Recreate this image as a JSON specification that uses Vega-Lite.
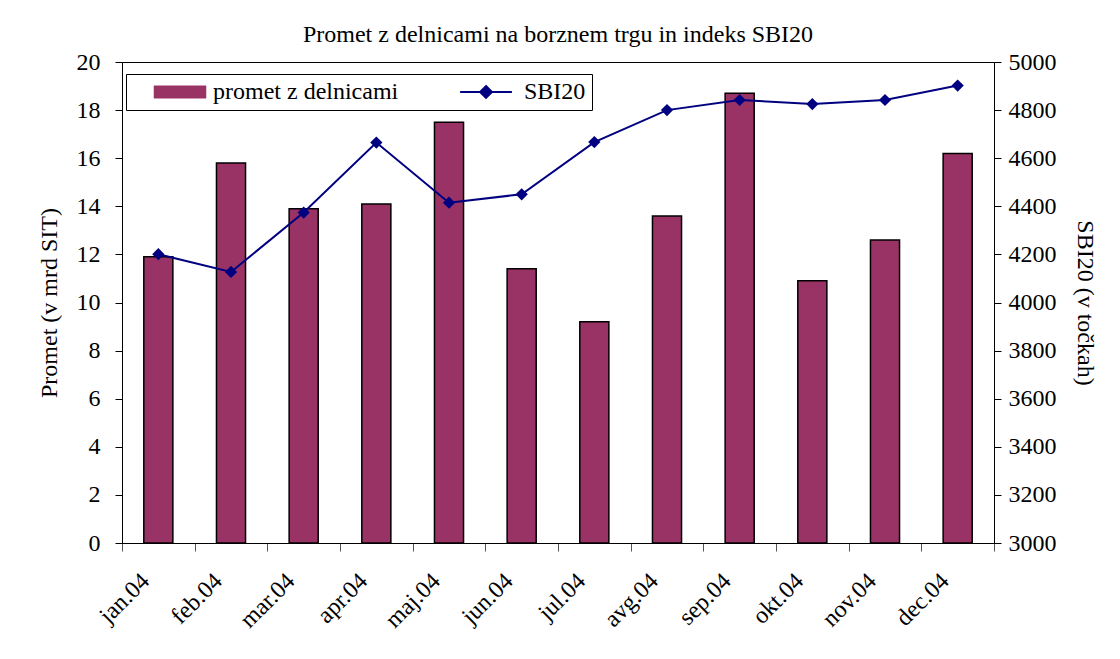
{
  "$schema": "https://vega.github.io/schema/vega-lite/v6.json",
  "width": 872,
  "height": 481,
  "autosize": {"type": "none"},
  "padding": {"left": 122, "top": 62, "right": 126, "bottom": 116},
  "background": "white",
  "title": {
    "text": "Promet z delnicami na borznem trgu in indeks SBI20",
    "font": "Liberation Serif",
    "fontSize": 24,
    "fontWeight": "normal",
    "color": "black",
    "offset": 3,
    "anchor": "middle"
  },
  "data": {
    "values": [
      {"mesec": "jan.04", "promet": 11.9, "sbi": 4201},
      {"mesec": "feb.04", "promet": 15.8, "sbi": 4127},
      {"mesec": "mar.04", "promet": 13.9, "sbi": 4374},
      {"mesec": "apr.04", "promet": 14.1, "sbi": 4665},
      {"mesec": "maj.04", "promet": 17.5, "sbi": 4415},
      {"mesec": "jun.04", "promet": 11.4, "sbi": 4450},
      {"mesec": "jul.04", "promet": 9.2, "sbi": 4667},
      {"mesec": "avg.04", "promet": 13.6, "sbi": 4800},
      {"mesec": "sep.04", "promet": 18.7, "sbi": 4842},
      {"mesec": "okt.04", "promet": 10.9, "sbi": 4825},
      {"mesec": "nov.04", "promet": 12.6, "sbi": 4842},
      {"mesec": "dec.04", "promet": 16.2, "sbi": 4902}
    ]
  },
  "encoding": {
    "x": {
      "field": "mesec",
      "type": "nominal",
      "sort": null,
      "scale": {"paddingInner": 0, "paddingOuter": 0},
      "axis": {
        "title": null,
        "labelAngle": -45,
        "labelAlign": "right",
        "labelBaseline": "middle",
        "labelPadding": 26,
        "labelOffset": -13,
        "tickBand": "extent",
        "tickSize": 8,
        "tickColor": "#555555"
      }
    }
  },
  "layer": [
    {
      "mark": {"type": "bar", "stroke": "black", "strokeWidth": 1.5, "width": {"band": 0.4}},
      "encoding": {
        "y": {
          "field": "promet",
          "type": "quantitative",
          "scale": {"domain": [0, 20], "nice": false},
          "axis": {
            "title": "Promet (v mrd SIT)",
            "orient": "left",
            "values": [0, 2, 4, 6, 8, 10, 12, 14, 16, 18, 20],
            "labelPadding": 15,
            "titlePadding": 15
          }
        },
        "color": {
          "datum": "promet z delnicami",
          "type": "nominal",
          "scale": {"domain": ["promet z delnicami", "SBI20"], "range": ["#993366", "transparent"]},
          "legend": {
            "title": null,
            "orient": "none",
            "legendX": 4,
            "legendY": 12,
            "direction": "horizontal",
            "padding": 6,
            "symbolOffset": 36,
            "labelOffset": 21,
            "columnPadding": 44,
            "symbolSize": 196,
            "symbolType": "M-3.75,-0.93H3.75V0.93H-3.75Z",
            "symbolStrokeColor": "transparent",
            "symbolOpacity": 1,
            "labelFont": "Liberation Serif",
            "labelFontSize": 24,
            "labelColor": "black",
            "labelLimit": 500,
            "strokeColor": "black",
            "fillColor": "white"
          }
        }
      }
    },
    {
      "mark": {
        "type": "line",
        "strokeWidth": 2,
        "point": {"shape": "diamond", "size": 150, "filled": true, "opacity": 1}
      },
      "encoding": {
        "y": {
          "field": "sbi",
          "type": "quantitative",
          "scale": {"domain": [3000, 5000], "nice": false, "zero": false},
          "axis": {
            "title": "SBI20 (v točkah)",
            "orient": "right",
            "format": "d",
            "values": [3000, 3200, 3400, 3600, 3800, 4000, 4200, 4400, 4600, 4800, 5000],
            "labelPadding": 7,
            "titlePadding": 16
          }
        },
        "color": {
          "datum": "SBI20",
          "type": "nominal",
          "scale": {"range": ["#000080"]},
          "legend": {
            "title": null,
            "orient": "none",
            "legendX": 306,
            "legendY": 12,
            "direction": "horizontal",
            "padding": 6,
            "symbolOffset": 40,
            "labelOffset": 27,
            "symbolSize": 196,
            "symbolType": "M-3.7,0H3.7M0,-0.85L0.85,0L0,0.85L-0.85,0Z",
            "symbolStrokeColor": "#000080",
            "symbolFillColor": "#000080",
            "symbolStrokeWidth": 2,
            "symbolOpacity": 1,
            "labelExpr": "''",
            "labelFont": "Liberation Serif",
            "labelFontSize": 24,
            "labelColor": "black"
          }
        }
      }
    }
  ],
  "resolve": {
    "scale": {"y": "independent", "color": "independent"},
    "legend": {"color": "independent"}
  },
  "config": {
    "view": {"stroke": "black", "strokeWidth": 1},
    "axis": {
      "labelFont": "Liberation Serif",
      "labelFontSize": 24,
      "labelColor": "black",
      "titleFont": "Liberation Serif",
      "titleFontSize": 24,
      "titleFontWeight": "normal",
      "titleColor": "black",
      "domainColor": "black",
      "tickColor": "black",
      "grid": false,
      "tickSize": 7
    }
  }
}
